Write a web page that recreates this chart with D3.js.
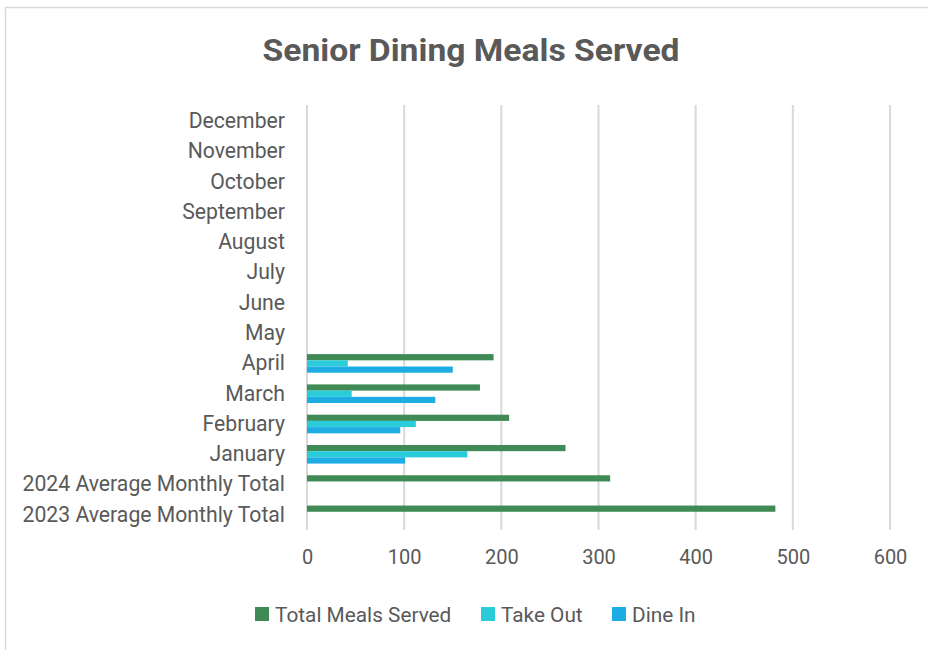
<!DOCTYPE html>
<html>
<head>
<meta charset="utf-8">
<script src="https://cdn.jsdelivr.net/npm/d3@7"></script>
<style>
  body { margin: 0; background: #fff; }
  text { font-family: "Roboto", "Liberation Sans", sans-serif; fill: #595959; }
</style>
</head>
<body>
<div id="chart-area"></div>
<script>
// categories bottom -> top
var categories = ["2023 Average Monthly Total", "2024 Average Monthly Total", "January", "February",
  "March", "April", "May", "June", "July", "August", "September", "October", "November", "December"];
var seriesNames = ["Total Meals Served", "Take Out", "Dine In"];
var totalMeals = [482, 312, 266, 208, 178, 192, null, null, null, null, null, null, null, null];
var takeOut = [null, null, 165, 112, 46, 42, null, null, null, null, null, null, null, null];
var dineIn = [null, null, 101, 96, 132, 150, null, null, null, null, null, null, null, null];
var xTicks = [0, 100, 200, 300, 400, 500, 600];
var colors = ["#3F8A55", "#29CCD8", "#1EADE3"];

var W = 928, H = 650;
var margin = { left: 307, right: 38, top: 106, bottom: 120 };
var width = W - margin.left - margin.right;
var height = H - margin.top - margin.bottom;

var svg = d3.select("#chart-area")
  .append("svg")
  .attr("width", W)
  .attr("height", H);

// outer border
svg.append("rect")
  .attr("x", 5.5).attr("y", 7.5)
  .attr("width", W + 10).attr("height", H + 10)
  .attr("fill", "none")
  .attr("stroke", "#d9d9d9")
  .attr("stroke-width", 1.5);

svg.append("text")
  .attr("x", 471)
  .attr("y", 61)
  .attr("text-anchor", "middle")
  .attr("font-size", "31px")
  .attr("font-weight", "bold")
  .attr("textLength", 417)
  .attr("lengthAdjust", "spacingAndGlyphs")
  .text("Senior Dining Meals Served");

var g = svg.append("g")
  .attr("transform", "translate(" + margin.left + "," + margin.top + ")");

var x = d3.scaleLinear().domain([0, 600]).range([0, 583]);

var y = d3.scaleBand()
  .domain(categories.slice().reverse())
  .range([0, height]);

var y1 = d3.scaleBand()
  .domain(seriesNames)
  .range([0, y.bandwidth() * 0.615]);

// gridlines
g.selectAll(".grid")
  .data(xTicks)
  .enter()
  .append("line")
  .attr("x1", d => x(d)).attr("x2", d => x(d))
  .attr("y1", -1).attr("y2", height)
  .attr("stroke", "#d9d9d9")
  .attr("stroke-width", 2);

// x axis labels
var xAxisCall = d3.axisBottom(x).tickValues(xTicks).tickSize(0).tickPadding(20);
var xAxis = g.append("g")
  .attr("transform", "translate(0," + height + ")")
  .call(xAxisCall);
xAxis.select(".domain").remove();
xAxis.selectAll("text")
  .attr("font-size", "20px")
  .style("font-family", "Roboto, sans-serif")
  .attr("fill", "#595959");

// y axis labels
var yAxisCall = d3.axisLeft(y).tickSize(0).tickPadding(22);
var yAxis = g.append("g").call(yAxisCall);
yAxis.select(".domain").remove();
yAxis.selectAll("text")
  .attr("font-size", "21.2px")
  .style("font-family", "Roboto, sans-serif")
  .attr("fill", "#595959");

// bars
var rows = categories.map((c, i) => ({ cat: c, vals: [totalMeals[i], takeOut[i], dineIn[i]] }));
var off = (y.bandwidth() - y1.range()[1]) / 2;

var groups = g.selectAll(".cat")
  .data(rows)
  .enter()
  .append("g")
  .attr("transform", d => "translate(0," + (y(d.cat) + off) + ")");

groups.selectAll("rect")
  .data(d => d.vals.map((v, j) => ({ name: seriesNames[j], v: v, j: j })).filter(e => e.v != null))
  .enter()
  .append("rect")
  .attr("x", x(0))
  .attr("y", d => y1(d.name))
  .attr("width", d => x(d.v) - x(0))
  .attr("height", y1.bandwidth())
  .attr("fill", d => colors[d.j]);

// legend
var legendX = [255, 481, 612];
var legend = svg.selectAll(".legend")
  .data(seriesNames)
  .enter()
  .append("g")
  .attr("transform", (d, i) => "translate(" + legendX[i] + ",607)");

legend.append("rect")
  .attr("width", 14).attr("height", 14)
  .attr("fill", (d, i) => colors[i]);

legend.append("text")
  .attr("x", 20)
  .attr("y", 14.5)
  .attr("font-size", "20.8px")
  .text(d => d);
</script>
</body>
</html>
